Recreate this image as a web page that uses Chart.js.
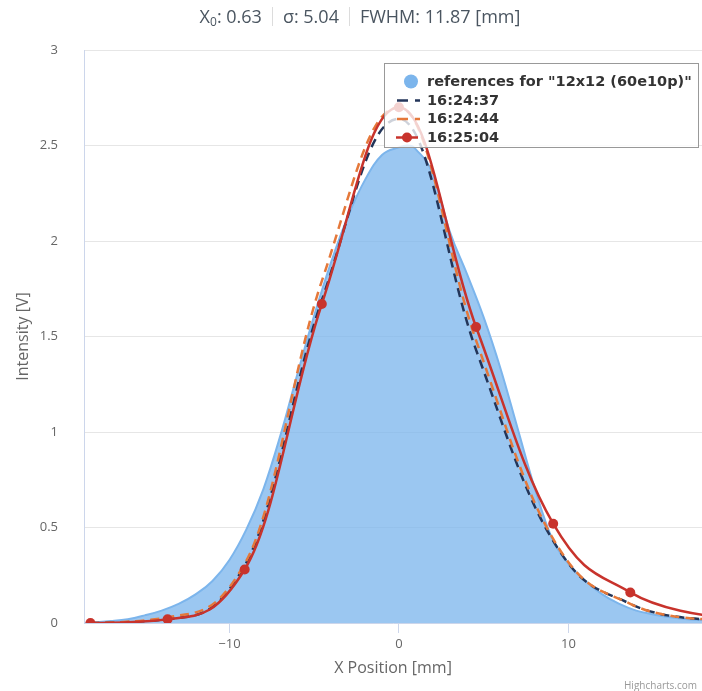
<!DOCTYPE html>
<html>
<head>
<meta charset="utf-8">
<script src="https://cdn.jsdelivr.net/npm/chart.js@4/dist/chart.umd.min.js"></script>
<style>
  html, body { margin: 0; padding: 0; background: #fff; }
  #wrap { position: relative; width: 702px; height: 691px; overflow: hidden; }
  #title { position: absolute; top: 4px; left: 0; width: 720px; text-align: center;
           font-family: "Open Sans", "Noto Sans", sans-serif; font-size: 18px; color: #4a5560; white-space: nowrap; }
  #title sub { font-size: 12px; vertical-align: -3px; line-height: 0; }
  #title .sep { display: inline-block; width: 1px; height: 19px; background: #dcdcdc; margin: 0 10px; vertical-align: -3px; }
  canvas { position: absolute; left: 0; top: 0; }
</style>
</head>
<body>
<div id="wrap">
  <canvas id="c" width="702" height="691"></canvas>
  <div id="title">X<sub>0</sub>: 0.63<span class="sep"></span>σ: 5.04<span class="sep"></span>FWHM: 11.87 [mm]</div>
</div>
<script>
// ---- data ----
const seriesNames = ['references for "12x12 (60e10p)"', '16:24:37', '16:24:44', '16:25:04'];
const refX = [-18.5, -17, -16, -15, -14, -13, -12, -11, -10, -9, -8, -7, -6, -5, -4, -3, -2, -1, 0, 0.5, 1, 2, 3, 4, 5, 6, 7, 8, 9, 10, 11, 12, 13, 14, 15, 16, 17, 18];
const refY = [0, 0.01, 0.02, 0.04, 0.065, 0.10, 0.15, 0.22, 0.33, 0.49, 0.70, 0.98, 1.30, 1.61, 1.89, 2.13, 2.32, 2.45, 2.49, 2.50, 2.48, 2.35, 2.05, 1.83, 1.60, 1.33, 1.02, 0.71, 0.45, 0.31, 0.22, 0.15, 0.10, 0.065, 0.045, 0.03, 0.02, 0.015];
const runX = [-18.2, -13.65, -9.1, -4.55, 0, 4.55, 9.1, 13.65, 18.2];
const run1 = [0, 0.02, 0.30, 1.69, 2.64, 1.43, 0.43, 0.10, 0.02];   // 16:24:37
const run2 = [0, 0.03, 0.31, 1.79, 2.70, 1.48, 0.44, 0.10, 0.02];   // 16:24:44
const run3 = [0, 0.02, 0.28, 1.67, 2.70, 1.55, 0.52, 0.16, 0.04];   // 16:25:04
const xTicks = [-10, 0, 10];
const yTicks = [0, 0.5, 1, 1.5, 2, 2.5, 3];

const colors = ['#7cb5ec', '#233559', '#e5783a', '#c8332c'];
const pts = (xs, ys) => xs.map((x, i) => ({ x: x, y: ys[i] }));

const FONT = '"Open Sans", "Noto Sans", sans-serif';

// Highcharts-style spline control points (smoothing 1.5, no false extremes)
const splinePlugin = {
  id: 'hcSpline',
  beforeDatasetsDraw(chart) {
    chart.getSortedVisibleDatasetMetas().forEach(meta => {
      const line = meta.dataset;
      if (!line) return;
      line.updateControlPoints(chart.chartArea, 'x');
      const P = meta.data, n = P.length, sm = 1.5, den = sm + 1;
      for (let i = 0; i < n; i++) {
        const p = P[i];
        if (i === 0 || i === n - 1) { p.cp1x = p.cp2x = p.x; p.cp1y = p.cp2y = p.y; continue; }
        const a = P[i - 1], b = P[i + 1];
        let lx = (sm * p.x + a.x) / den, ly = (sm * p.y + a.y) / den;
        let rx = (sm * p.x + b.x) / den, ry = (sm * p.y + b.y) / den;
        let corr = 0;
        if (rx !== lx) corr = ((ry - ly) * (rx - p.x)) / (rx - lx) + p.y - ry;
        ly += corr; ry += corr;
        if (ly > a.y && ly > p.y) { ly = Math.max(a.y, p.y); ry = 2 * p.y - ly; }
        else if (ly < a.y && ly < p.y) { ly = Math.min(a.y, p.y); ry = 2 * p.y - ly; }
        if (ry > b.y && ry > p.y) { ry = Math.max(b.y, p.y); ly = 2 * p.y - ry; }
        else if (ry < b.y && ry < p.y) { ry = Math.min(b.y, p.y); ly = 2 * p.y - ry; }
        p.cp1x = lx; p.cp1y = ly; p.cp2x = rx; p.cp2y = ry;
      }
    });
  }
};

const legendPlugin = {
  id: 'hcLegend',
  afterDraw(chart) {
    const ctx = chart.ctx;
    ctx.save();
    const bx = 384.5, by = 63.5, bw = 314, bh = 84;
    ctx.fillStyle = 'rgba(255,255,255,0.78)';
    ctx.fillRect(bx, by, bw, bh);
    ctx.strokeStyle = '#999';
    ctx.lineWidth = 1;
    ctx.strokeRect(bx, by, bw, bh);
    const rows = [81.5, 100.5, 119, 137.5];
    ctx.textBaseline = 'middle';
    ctx.beginPath();
    ctx.arc(411, rows[0], 7, 0, Math.PI * 2);
    ctx.fillStyle = colors[0];
    ctx.fill();
    [1, 2].forEach(i => {
      ctx.beginPath();
      ctx.setLineDash([11, 7]);
      ctx.lineCap = 'butt';
      ctx.strokeStyle = colors[i];
      ctx.lineWidth = 2.5;
      ctx.moveTo(397, rows[i]);
      ctx.lineTo(420, rows[i]);
      ctx.stroke();
    });
    ctx.setLineDash([]);
    ctx.beginPath();
    ctx.strokeStyle = colors[3];
    ctx.lineWidth = 2.5;
    ctx.moveTo(396, rows[3]);
    ctx.lineTo(418, rows[3]);
    ctx.stroke();
    ctx.beginPath();
    ctx.arc(407, rows[3], 5, 0, Math.PI * 2);
    ctx.fillStyle = colors[3];
    ctx.fill();
    ctx.font = 'bold 14.5px "DejaVu Sans", sans-serif';
    ctx.fillStyle = '#333';
    seriesNames.forEach((n, i) => ctx.fillText(n, 427, rows[i] + 0.5));
    ctx.font = '10px ' + FONT;
    ctx.fillStyle = '#999';
    ctx.textBaseline = 'alphabetic';
    ctx.fillText('Highcharts.com', 624, 689);
    ctx.restore();
  }
};

new Chart(document.getElementById('c'), {
  type: 'line',
  data: {
    datasets: [
      { label: seriesNames[0], data: pts(refX, refY), borderColor: colors[0], backgroundColor: 'rgba(124,181,236,0.76)',
        fill: 'origin', borderWidth: 2, pointRadius: 0, tension: 0.4, order: 3 },
      { label: seriesNames[1], data: pts(runX, run1), borderColor: colors[1], borderDash: [9, 6], borderWidth: 2.5,
        pointRadius: 0, tension: 0.4, fill: false, order: 2 },
      { label: seriesNames[2], data: pts(runX, run2), borderColor: colors[2], borderDash: [9, 6], borderWidth: 2.5,
        pointRadius: 0, tension: 0.4, fill: false, order: 1 },
      { label: seriesNames[3], data: pts(runX, run3), borderColor: colors[3], borderWidth: 2.5,
        pointRadius: 5, pointBackgroundColor: colors[3], pointBorderWidth: 0, tension: 0.4, fill: false, order: 0 }
    ]
  },
  options: {
    responsive: false,
    animation: false,
    layout: { autoPadding: false, padding: { top: 50, right: 0, bottom: 0, left: 0 } },
    plugins: { legend: { display: false }, tooltip: { enabled: false }, title: { display: false } },
    scales: {
      x: {
        type: 'linear', min: -18.58, max: 17.88,
        afterBuildTicks(s) { s.ticks = xTicks.map(v => ({ value: v })); },
        afterFit(s) { s.height = 68; s.paddingLeft = 0; s.paddingRight = 0; },
        ticks: { color: '#666', font: { family: FONT, size: 13 }, padding: 3,
                 callback: v => String(v).replace('-', '\u2212') },
        grid: { drawOnChartArea: false, drawTicks: true, tickLength: 10, color: '#ccd6eb', lineWidth: 1 },
        border: { display: true, color: '#ccd6eb' },
        title: { display: true, text: 'X Position [mm]', color: '#666', font: { family: FONT, size: 16 },
                 padding: { top: 0, bottom: 13 } }
      },
      y: {
        min: 0, max: 3,
        afterBuildTicks(s) { s.ticks = yTicks.map(v => ({ value: v })); },
        afterFit(s) { s.width = 84; },
        ticks: { color: '#666', font: { family: FONT, size: 13 }, padding: 26, callback: v => String(v) },
        grid: { color: '#e6e6e6', drawTicks: false, lineWidth: 1 },
        border: { display: true, color: '#ccd6eb' },
        title: { display: true, text: 'Intensity [V]', color: '#666', font: { family: FONT, size: 16 },
                 padding: { top: 14, bottom: 0 } }
      }
    }
  },
  plugins: [splinePlugin, legendPlugin]
});
</script>
</body>
</html>
